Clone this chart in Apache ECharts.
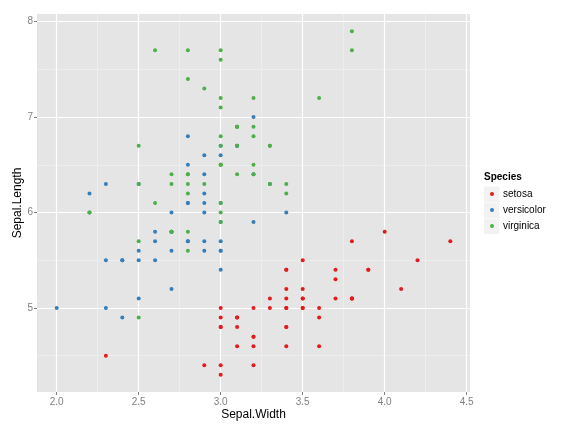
<!DOCTYPE html>
<html>
<head>
  <meta charset="utf-8">
  <title>Sepal.Width vs Sepal.Length</title>
  <script src="https://cdn.jsdelivr.net/npm/echarts@6/dist/echarts.min.js"></script>
  <style>
    body { margin: 0; padding: 0; background: #fff; }
    #main { width: 576px; height: 432px; }
  </style>
</head>
<body>
  <div id="main"></div>
  <script type="text/javascript">
    var species = ['setosa', 'versicolor', 'virginica'];
    var colors = ['#E41A1C', '#377EB8', '#4DAF4A'];

    var setosaWidth = [3.5, 3.0, 3.2, 3.1, 3.6, 3.9, 3.4, 3.4, 2.9, 3.1, 3.7, 3.4, 3.0, 3.0, 4.0, 4.4, 3.9, 3.5, 3.8, 3.8,
      3.4, 3.7, 3.6, 3.3, 3.4, 3.0, 3.4, 3.5, 3.4, 3.2, 3.1, 3.4, 4.1, 4.2, 3.1, 3.2, 3.5, 3.6, 3.0, 3.4,
      3.5, 2.3, 3.2, 3.5, 3.8, 3.0, 3.8, 3.2, 3.7, 3.3];
    var setosaLength = [5.1, 4.9, 4.7, 4.6, 5.0, 5.4, 4.6, 5.0, 4.4, 4.9, 5.4, 4.8, 4.8, 4.3, 5.8, 5.7, 5.4, 5.1, 5.7, 5.1,
      5.4, 5.1, 4.6, 5.1, 4.8, 5.0, 5.0, 5.2, 5.2, 4.7, 4.8, 5.4, 5.2, 5.5, 4.9, 5.0, 5.5, 4.9, 4.4, 5.1,
      5.0, 4.5, 4.4, 5.0, 5.1, 4.8, 5.1, 4.6, 5.3, 5.0];
    var versicolorWidth = [3.2, 3.2, 3.1, 2.3, 2.8, 2.8, 3.3, 2.4, 2.9, 2.7, 2.0, 3.0, 2.2, 2.9, 2.9, 3.1, 3.0, 2.7, 2.2, 2.5,
      3.2, 2.8, 2.5, 2.8, 2.9, 3.0, 2.8, 3.0, 2.9, 2.6, 2.4, 2.4, 2.7, 2.7, 3.0, 3.4, 3.1, 2.3, 3.0, 2.5,
      2.6, 3.0, 2.6, 2.3, 2.7, 3.0, 2.9, 2.9, 2.5, 2.8];
    var versicolorLength = [7.0, 6.4, 6.9, 5.5, 6.5, 5.7, 6.3, 4.9, 6.6, 5.2, 5.0, 5.9, 6.0, 6.1, 5.6, 6.7, 5.6, 5.8, 6.2, 5.6,
      5.9, 6.1, 6.3, 6.1, 6.4, 6.6, 6.8, 6.7, 6.0, 5.7, 5.5, 5.5, 5.8, 6.0, 5.4, 6.0, 6.7, 6.3, 5.6, 5.5,
      5.5, 6.1, 5.8, 5.0, 5.6, 5.7, 5.7, 6.2, 5.1, 5.7];
    var virginicaWidth = [3.3, 2.7, 3.0, 2.9, 3.0, 3.0, 2.5, 2.9, 2.5, 3.6, 3.2, 2.7, 3.0, 2.5, 2.8, 3.2, 3.0, 3.8, 2.6, 2.2,
      3.2, 2.8, 2.8, 2.7, 3.3, 3.2, 2.8, 3.0, 2.8, 3.0, 2.8, 3.8, 2.8, 2.8, 2.6, 3.0, 3.4, 3.1, 3.0, 3.1,
      3.1, 3.1, 2.7, 3.2, 3.3, 3.0, 2.5, 3.0, 3.4, 3.0];
    var virginicaLength = [6.3, 5.8, 7.1, 6.3, 6.5, 7.6, 4.9, 7.3, 6.7, 7.2, 6.5, 6.4, 6.8, 5.7, 5.8, 6.4, 6.5, 7.7, 7.7, 6.0,
      6.9, 5.6, 7.7, 6.3, 6.7, 7.2, 6.2, 6.1, 6.4, 7.2, 7.4, 7.9, 6.4, 6.3, 6.1, 7.7, 6.3, 6.4, 6.0, 6.9,
      6.7, 6.9, 5.8, 6.8, 6.7, 6.7, 6.3, 6.5, 6.2, 5.9];

    var xTicks = [2.0, 2.5, 3.0, 3.5, 4.0, 4.5];
    var xMinor = [2.25, 2.75, 3.25, 3.75, 4.25];
    var yTicks = [5, 6, 7, 8];
    var yMinor = [4.5, 5.5, 6.5, 7.5];

    var widths = [setosaWidth, versicolorWidth, virginicaWidth];
    var lengths = [setosaLength, versicolorLength, virginicaLength];

    function zip(a, b) {
      var out = [];
      for (var i = 0; i < a.length; i++) out.push([a[i], b[i]]);
      return out;
    }

    // grid lines drawn as markLines so they sit on the ggplot-style breaks
    var minorStyle = { color: '#F2F2F2', width: 0.6, type: 'solid' };
    var majorStyle = { color: '#FFFFFF', width: 1.2, type: 'solid' };
    var gridLines = [];
    xMinor.forEach(function (v) { gridLines.push({ xAxis: v, lineStyle: minorStyle }); });
    yMinor.forEach(function (v) { gridLines.push({ yAxis: v, lineStyle: minorStyle }); });
    xTicks.forEach(function (v) { gridLines.push({ xAxis: v, lineStyle: majorStyle }); });
    yTicks.forEach(function (v) { gridLines.push({ yAxis: v, lineStyle: majorStyle }); });

    var series = [{
      name: 'grid',
      type: 'scatter',
      data: [],
      z: 1,
      silent: true,
      markLine: {
        z: 1,
        silent: true,
        symbol: ['none', 'none'],
        label: { show: false },
        emphasis: { disabled: true },
        animation: false,
        lineStyle: { type: 'solid' },
        data: gridLines
      }
    }];
    for (var s = 0; s < species.length; s++) {
      series.push({
        name: species[s],
        type: 'scatter',
        symbol: 'circle',
        symbolSize: 4,
        z: 3,
        itemStyle: { color: colors[s], opacity: 1 },
        data: zip(widths[s], lengths[s])
      });
    }

    var font = "'Liberation Sans', Arial, sans-serif";
    var chart = echarts.init(document.getElementById('main'));
    chart.setOption({
      animation: false,
      textStyle: { fontFamily: font },
      grid: {
        left: 37, right: 106, top: 14, bottom: 40,
        show: true, backgroundColor: '#E5E5E5', borderWidth: 0
      },
      xAxis: {
        type: 'value',
        min: 1.88, max: 4.52,
        name: 'Sepal.Width',
        nameLocation: 'middle',
        nameGap: 17,
        nameMoveOverlap: false,
        nameTextStyle: { color: '#000', fontSize: 12, fontFamily: font },
        axisLine: { show: false },
        splitLine: { show: false },
        axisTick: { show: true, length: 3, lineStyle: { color: '#7F7F7F' }, customValues: xTicks },
        axisLabel: {
          color: '#7F7F7F', fontSize: 10, margin: 5, fontFamily: font,
          customValues: xTicks,
          formatter: function (v) { return v.toFixed(1); }
        }
      },
      yAxis: {
        type: 'value',
        min: 4.12, max: 8.08,
        name: 'Sepal.Length',
        nameLocation: 'middle',
        nameGap: 13,
        nameMoveOverlap: false,
        nameRotate: 90,
        nameTextStyle: { color: '#000', fontSize: 12, fontFamily: font },
        axisLine: { show: false },
        splitLine: { show: false },
        axisTick: { show: true, length: 3, lineStyle: { color: '#7F7F7F' }, customValues: yTicks },
        axisLabel: {
          color: '#7F7F7F', fontSize: 10, margin: 4, fontFamily: font,
          customValues: yTicks,
          formatter: function (v) { return String(Math.round(v)); }
        }
      },
      legend: {
        orient: 'vertical',
        left: 490, top: 186,
        padding: 0,
        itemWidth: 4, itemHeight: 4, itemGap: 0,
        icon: 'circle',
        data: species,
        selectedMode: false,
        textStyle: { fontSize: 10, lineHeight: 16, color: '#000', fontFamily: font, padding: [0, 0, 0, 4] }
      },
      graphic: [
        { type: 'text', left: 484, top: 172.5, style: { text: 'Species', font: 'bold 10px ' + font, fill: '#000' } },
        { type: 'rect', left: 484, top: 186.5, z: -1, shape: { width: 15.5, height: 15.5 }, style: { fill: '#F2F2F2' } },
        { type: 'rect', left: 484, top: 202.5, z: -1, shape: { width: 15.5, height: 15.5 }, style: { fill: '#F2F2F2' } },
        { type: 'rect', left: 484, top: 218.5, z: -1, shape: { width: 15.5, height: 15.5 }, style: { fill: '#F2F2F2' } }
      ],
      series: series
    });
  </script>
</body>
</html>
